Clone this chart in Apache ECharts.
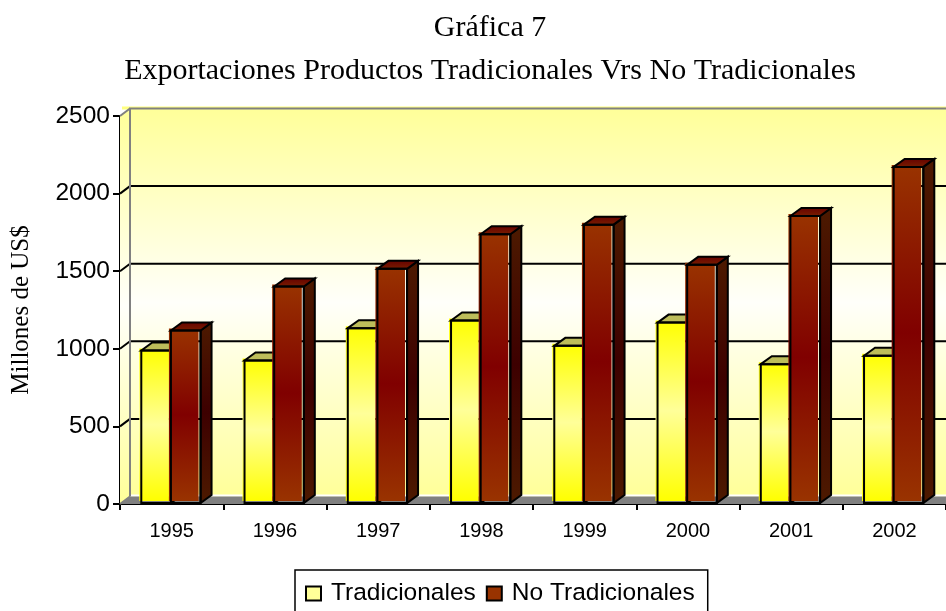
<!DOCTYPE html>
<html>
<head>
<meta charset="utf-8">
<style>
  html, body { margin: 0; padding: 0; background: #fff; }
  #main { width: 946px; height: 611px; }
</style>
<script src="https://cdn.jsdelivr.net/npm/echarts@6/dist/echarts.min.js"></script>
</head>
<body>
<div id="main"></div>
<script>
  var years = ['1995', '1996', '1997', '1998', '1999', '2000', '2001', '2002'];
  var tradicionales = [989, 925, 1133, 1182, 1019, 1169, 901, 955];
  var noTradicionales = [1118, 1401, 1515, 1738, 1800, 1541, 1856, 2172];
  var yTicks = [0, 500, 1000, 1500, 2000, 2500];

  // fake 3D look of the old spreadsheet chart
  var depthX = 11, depthY = 8;
  var wallX = 10, wallY = 7.5;
  var barRatio = 0.287;

  var chart = echarts.init(document.getElementById('main'));

  function renderWall(params, api) {
    var cs = params.coordSys;
    var x0 = cs.x, x1 = cs.x + cs.width;
    var yBase = api.coord([0, 0])[1];
    var yTop = api.coord([0, yTicks[yTicks.length - 1]])[1];
    var wallGrad = new echarts.graphic.LinearGradient(0, 0, 0, 1, [
      { offset: 0, color: '#ffff99' },
      { offset: 0.5, color: '#fffffa' },
      { offset: 1, color: '#ffff99' }
    ]);
    var children = [
      { type: 'polygon', shape: { points: [[x0, yTop], [x0 + wallX, yTop - wallY], [x0 + wallX, yBase - wallY], [x0, yBase]] },
        style: { fill: wallGrad } },
      { type: 'rect', shape: { x: x0 + wallX - 8, y: yTop - wallY - 2, width: x1 - x0 - wallX + 8, height: 3 },
        style: { fill: '#ffff80' } },
      { type: 'rect', shape: { x: x0 + wallX, y: yTop - wallY, width: x1 - x0 - wallX, height: yBase - yTop },
        style: { fill: wallGrad } },
      { type: 'rect', shape: { x: x0 + wallX, y: yBase - wallY - 2, width: x1 - x0 - wallX, height: 2 },
        style: { fill: '#ffffff' } },
      { type: 'polygon', shape: { points: [[x0, yBase], [x0 + wallX, yBase - wallY], [x1, yBase - wallY], [x1, yBase]] },
        style: { fill: '#808080' } }
    ];
    yTicks.forEach(function (t) {
      var y = api.coord([0, t])[1];
      if (t > 0 && t < yTicks[yTicks.length - 1]) {
        children.push({ type: 'line', shape: { x1: x0 + wallX, y1: y - wallY, x2: x1, y2: y - wallY },
          style: { stroke: '#000', lineWidth: 2 } });
      }
      if (t < yTicks[yTicks.length - 1]) {
        children.push({ type: 'line', shape: { x1: x0, y1: y, x2: x0 + wallX, y2: y - wallY },
          style: { stroke: t === 0 ? '#808080' : '#000', lineWidth: 2 } });
      }
    });
    children.push({ type: 'polyline', shape: { points: [[x0 + wallX, yBase - wallY], [x0 + wallX, yTop - wallY], [x1, yTop - wallY]] },
      style: { stroke: '#808080', fill: null, lineWidth: 2 } });
    children.push({ type: 'line', shape: { x1: x0, y1: yTop, x2: x0 + wallX, y2: yTop - wallY },
      style: { stroke: '#808080', lineWidth: 2 } });
    return { type: 'group', children: children };
  }

  function makeBarRender(side, colors) {
    return function (params, api) {
      var p = api.coord([api.value(0), api.value(1)]);
      var base = api.coord([api.value(0), 0])[1] - 1;
      var w = api.size([1, 0])[0] * barRatio;
      var x0 = (side < 0 ? p[0] - w : p[0]) - 0.7;
      var x1 = x0 + w;
      var y = p[1];
      var line = { stroke: '#000', lineWidth: 2, lineJoin: 'miter' };
      var sideFill = new echarts.graphic.LinearGradient(0, 0, 0, 1, colors.side);
      var topFill = new echarts.graphic.LinearGradient(0, 0, 0, 1, colors.top);
      return {
        type: 'group',
        children: [
          // the fill sits a little off the outline, like in the original
          { type: 'rect', shape: { x: x0 - 2, y: y - 2, width: w, height: base - y },
            style: { fill: new echarts.graphic.LinearGradient(0, 0, 0, 1, colors.front) } },
          { type: 'polygon', shape: { points: [[x1, y], [x1 + depthX, y - depthY], [x1 + depthX, base - depthY], [x1, base]] },
            style: Object.assign({ fill: sideFill }, line) },
          { type: 'polygon', shape: { points: [[x0, y], [x0 + depthX, y - depthY], [x1 + depthX, y - depthY], [x1, y]] },
            style: Object.assign({ fill: topFill }, line) },
          { type: 'rect', shape: { x: x0, y: y, width: w, height: base - y },
            style: Object.assign({ fill: null }, line) }
        ]
      };
    };
  }

  var yellowColors = {
    front: [{ offset: 0, color: '#ffff00' }, { offset: 0.5, color: '#ffff99' }, { offset: 1, color: '#ffff00' }],
    side: [{ offset: 0, color: '#999933' }, { offset: 1, color: '#999933' }],
    top: [{ offset: 0, color: '#bdbd5a' }, { offset: 1, color: '#bdbd5a' }]
  };
  var redColors = {
    front: [{ offset: 0, color: '#993300' }, { offset: 0.5, color: '#800000' }, { offset: 1, color: '#993300' }],
    side: [{ offset: 0, color: '#4d1a00' }, { offset: 0.5, color: '#3d0000' }, { offset: 1, color: '#4d1a00' }],
    top: [{ offset: 0, color: '#660000' }, { offset: 1, color: '#7a2000' }]
  };

  var option = {
    backgroundColor: '#ffffff',
    animation: false,
    title: [
      { text: 'Gráfica 7', left: 485, textAlign: 'center', top: 8,
        textStyle: { fontFamily: 'Liberation Serif', fontSize: 30, fontWeight: 'normal', color: '#000' } },
      { text: 'Exportaciones Productos Tradicionales Vrs No Tradicionales', left: 485, textAlign: 'center', top: 51,
        textStyle: { fontFamily: 'Liberation Serif', fontSize: 30, fontWeight: 'normal', color: '#000' } }
    ],
    grid: { left: 120, right: 0, top: 116, bottom: 107 },
    legend: {
      data: ['Tradicionales', 'No Tradicionales'],
      left: 295, top: 570,
      padding: [11, 13, 14, 10],
      itemWidth: 15, itemHeight: 14, itemGap: 10,
      icon: 'rect',
      borderColor: '#000', borderWidth: 1.5,
      selectedMode: false,
      textStyle: { fontFamily: 'Liberation Sans', fontSize: 24.5, color: '#000', padding: [2, 0, 0, 5] }
    },
    xAxis: {
      type: 'category',
      data: years,
      axisLine: { show: true, onZero: false, lineStyle: { color: '#000', width: 2 } },
      axisTick: { show: true, length: 6, lineStyle: { color: '#000', width: 2 } },
      axisLabel: { fontFamily: 'Liberation Sans', fontSize: 20, color: '#000', margin: 17 },
      splitLine: { show: false }
    },
    yAxis: {
      type: 'value',
      min: 0, max: 2500, interval: 500,
      name: 'Millones de US$',
      nameLocation: 'middle',
      nameGap: 86,
      nameTextStyle: { fontFamily: 'Liberation Serif', fontSize: 25, color: '#000' },
      axisLine: { show: true, lineStyle: { color: '#000', width: 2 } },
      axisTick: { show: true, length: 7, lineStyle: { color: '#000', width: 2 } },
      axisLabel: { fontFamily: 'Liberation Sans', fontSize: 24.5, color: '#000', margin: 10,
        formatter: function (v) { return String(v); } },
      splitLine: { show: false }
    },
    series: [
      { type: 'custom', name: 'wall', silent: true, clip: false, z: 1, renderItem: renderWall, data: [[0, 0]], encode: { x: 0, y: 1 } },
      { type: 'custom', name: 'Tradicionales', clip: false, z: 3,
        renderItem: makeBarRender(-1, yellowColors),
        itemStyle: { color: '#ffff99', borderColor: '#000', borderWidth: 2 },
        data: years.map(function (y, i) { return [i, tradicionales[i]]; }), encode: { x: 0, y: 1 } },
      { type: 'custom', name: 'No Tradicionales', clip: false, z: 4,
        renderItem: makeBarRender(1, redColors),
        itemStyle: { color: '#993300', borderColor: '#000', borderWidth: 2 },
        data: years.map(function (y, i) { return [i, noTradicionales[i]]; }), encode: { x: 0, y: 1 } }
    ]
  };
  chart.setOption(option);
</script>
</body>
</html>
